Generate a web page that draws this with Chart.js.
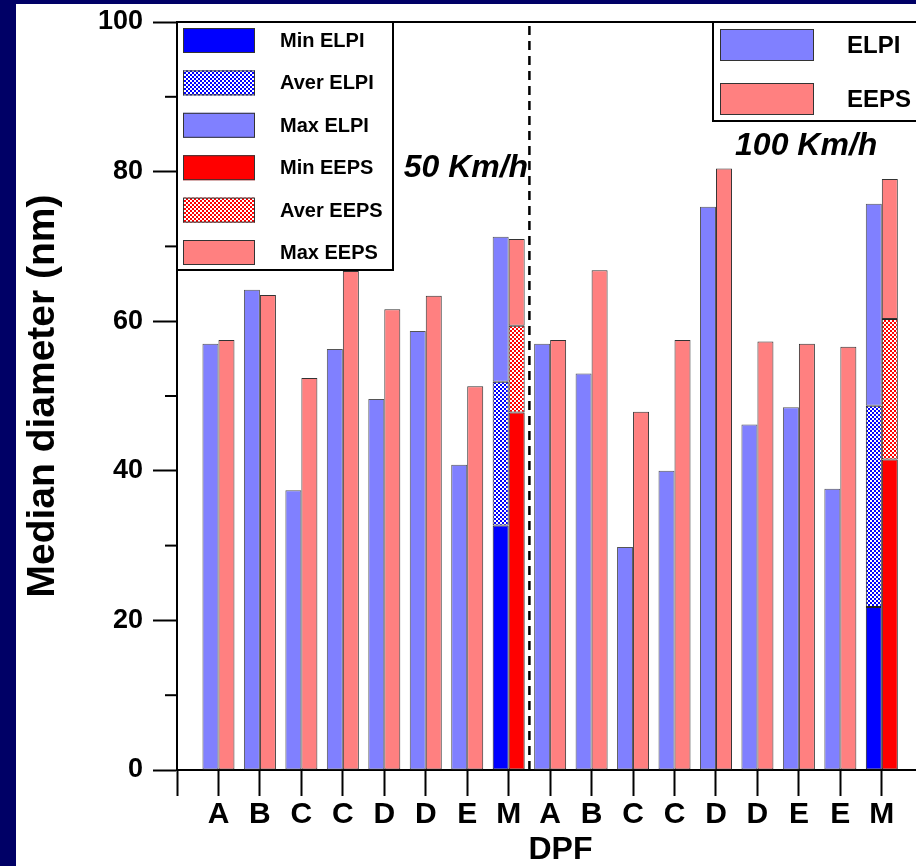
<!DOCTYPE html>
<html>
<head>
<meta charset="utf-8">
<title>Median diameter by DPF</title>
<script src="https://cdn.jsdelivr.net/npm/chart.js@4.4.1/dist/chart.umd.min.js"></script>
<style>
  html, body { margin: 0; padding: 0; background: #000066; overflow: hidden; width: 916px; height: 866px; }
  #frame { position: absolute; left: 16px; top: 4px; width: 928px; height: 862px; background: #fff; }
  canvas { display: block; }
</style>
</head>
<body>
<div id="frame"><canvas id="chart" width="928" height="862"></canvas></div>
<script>
// ---------- Data ----------
const categories = ["A", "B", "C", "C", "D", "D", "E", "M", "A", "B", "C", "C", "D", "D", "E", "E", "M"];
const elpiMax = [57.0, 64.2, 37.4, 56.3, 49.6, 58.7, 40.8, 71.3, 57.0, 53.0, 29.8, 40.0, 75.3, 46.2, 48.5, 37.6, 75.7];
const eepsMax = [57.5, 63.5, 52.4, 66.7, 61.6, 63.4, 51.3, 71.0, 57.5, 66.8, 47.9, 57.5, 80.4, 57.3, 57.0, 56.6, 79.0];
const elpiMin = [null, null, null, null, null, null, null, 32.7, null, null, null, null, null, null, null, null, 21.8];
const elpiAver = [null, null, null, null, null, null, null, 51.9, null, null, null, null, null, null, null, null, 48.7];
const eepsMin = [null, null, null, null, null, null, null, 47.8, null, null, null, null, null, null, null, null, 41.5];
const eepsAver = [null, null, null, null, null, null, null, 59.4, null, null, null, null, null, null, null, null, 60.3];
const minorTicks = [10, 30, 50, 70, 90];
const speedLabels = ["50 Km/h", "100 Km/h"];
const splitAt = 8.5;
const summaryLabels = ["ELPI", "EEPS"];

const FONT = "'Liberation Sans', Arial, Helvetica, sans-serif";

// ---------- Helpers ----------
function checker(color) {
  const c = document.createElement("canvas");
  c.width = 4;
  c.height = 4;
  const g = c.getContext("2d");
  g.fillStyle = "#fff";
  g.fillRect(0, 0, 4, 4);
  g.fillStyle = color;
  g.fillRect(0, 0, 2, 2);
  g.fillRect(2, 2, 2, 2);
  return g.createPattern(c, "repeat");
}

// stacked pieces: value minus what is under it
function piece(top, base) {
  return top.map((v, i) => ({
    x: i + 1,
    y: v === null ? null : v - (base ? base[i] || 0 : 0),
  }));
}

function bar(label, stack, data, color, edge) {
  return {
    type: "bar",
    label: label,
    stack: stack,
    data: data,
    backgroundColor: color,
    borderColor: edge,
    borderWidth: 1,
    borderSkipped: false,
    categoryPercentage: 0.772,
    barPercentage: 1,
  };
}

// ---------- Plugins ----------
const decorations = {
  id: "decorations",
  afterDatasetsDraw(chart) {
    const { ctx, chartArea, scales } = chart;
    ctx.save();
    ctx.strokeStyle = "#000";
    ctx.lineWidth = 2;
    // top and right frame
    ctx.beginPath();
    ctx.moveTo(chartArea.left, chartArea.top);
    ctx.lineTo(chartArea.right, chartArea.top);
    ctx.lineTo(chartArea.right, chartArea.bottom);
    ctx.stroke();
    // minor y ticks
    minorTicks.forEach((v) => {
      const y = scales.y.getPixelForValue(v);
      ctx.beginPath();
      ctx.moveTo(chartArea.left - 12, y);
      ctx.lineTo(chartArea.left, y);
      ctx.stroke();
    });
    // speed labels
    ctx.fillStyle = "#000";
    ctx.font = "italic bold 32px " + FONT;
    ctx.textBaseline = "alphabetic";
    ctx.textAlign = "right";
    ctx.fillText(speedLabels[0], scales.x.getPixelForValue(8.47), scales.y.getPixelForValue(79.3));
    ctx.textAlign = "left";
    ctx.fillText(speedLabels[1], scales.x.getPixelForValue(13.46), scales.y.getPixelForValue(82.2));
    ctx.restore();
  },
  afterDraw(chart) {
    const { ctx, chartArea } = chart;
    const bars = chart.data.datasets.filter((d) => d.type === "bar");
    const L = chartArea.left, T = chartArea.top;
    ctx.save();
    // legend 1
    ctx.fillStyle = "#fff";
    ctx.fillRect(L, T, 216, 248);
    ctx.strokeStyle = "#000";
    ctx.lineWidth = 2;
    ctx.strokeRect(L, T, 216, 248);
    ctx.font = "bold 20px " + FONT;
    ctx.textBaseline = "middle";
    ctx.textAlign = "left";
    bars.forEach((d, i) => {
      const cy = T + 18.5 + i * 42.4;
      ctx.fillStyle = d.backgroundColor;
      ctx.fillRect(L + 6, cy - 12.5, 72, 25);
      ctx.strokeStyle = "#333";
      ctx.lineWidth = 1;
      ctx.strokeRect(L + 6.5, cy - 12, 71, 24);
      ctx.fillStyle = "#000";
      ctx.fillText(d.label, L + 103, cy + 1);
    });
    // legend 2
    const X2 = L + 536;
    ctx.fillStyle = "#fff";
    ctx.fillRect(X2, T, 400, 99);
    ctx.strokeStyle = "#000";
    ctx.lineWidth = 2;
    ctx.strokeRect(X2, T, 400, 99);
    ctx.font = "bold 24px " + FONT;
    [bars[2], bars[5]].forEach((d, i) => {
      const top = T + 7 + i * 54;
      ctx.fillStyle = d.backgroundColor;
      ctx.fillRect(X2 + 7, top, 94, 32);
      ctx.strokeStyle = "#333";
      ctx.lineWidth = 1;
      ctx.strokeRect(X2 + 7.5, top + 0.5, 93, 31);
      ctx.fillStyle = "#000";
      ctx.fillText(summaryLabels[i], X2 + 134, top + 17);
    });
    ctx.restore();
  },
};

// ---------- Chart ----------
const blueHatch = checker("#0000ff");
const redHatch = checker("#ff0000");

new Chart(document.getElementById("chart"), {
  data: {
    datasets: [
      bar("Min ELPI", "elpi", piece(elpiMin), "#0000ff", "#222"),
      bar("Aver ELPI", "elpi", piece(elpiAver, elpiMin), blueHatch, "#222"),
      bar("Max ELPI", "elpi", piece(elpiMax, elpiAver), "#8080ff", "#555"),
      bar("Min EEPS", "eeps", piece(eepsMin), "#ff0000", "#222"),
      bar("Aver EEPS", "eeps", piece(eepsAver, eepsMin), redHatch, "#222"),
      bar("Max EEPS", "eeps", piece(eepsMax, eepsAver), "#ff8080", "#333"),
      {
        type: "line",
        label: "split",
        data: [{ x: splitAt, y: 0 }, { x: splitAt, y: 100 }],
        borderColor: "#000",
        borderWidth: 2.5,
        borderDash: [9, 6],
        pointRadius: 0,
      },
    ],
  },
  options: {
    responsive: false,
    animation: false,
    layout: { padding: { top: 18, left: 0, right: 0, bottom: 0 } },
    plugins: { legend: { display: false }, tooltip: { enabled: false } },
    scales: {
      x: {
        type: "linear",
        min: 0,
        max: 18.5,
        offset: false,
        afterFit: (s) => {
          s.height = 96;
          s.paddingLeft = 0;
          s.paddingRight = 0;
        },
        grid: { drawOnChartArea: false, offset: false, tickLength: 26, tickWidth: 2, tickColor: "#000" },
        border: { color: "#000", width: 2 },
        ticks: {
          stepSize: 1,
          includeBounds: false,
          autoSkip: false,
          maxRotation: 0,
          padding: 1,
          color: "#000",
          font: { family: FONT, size: 30, weight: "bold" },
          callback: (v) => categories[v - 1] || "",
        },
        title: {
          display: true,
          text: "DPF",
          color: "#000",
          font: { family: FONT, size: 32, weight: "bold", lineHeight: 1 },
          padding: 0,
        },
      },
      y: {
        min: 0,
        max: 100,
        stacked: true,
        afterFit: (s) => {
          s.width = 161;
          s.paddingTop = 0;
          s.paddingBottom = 0;
        },
        grid: { drawOnChartArea: false, tickLength: 24, tickWidth: 2, tickColor: "#000" },
        border: { color: "#000", width: 2 },
        ticks: {
          stepSize: 20,
          padding: 10,
          color: "#000",
          font: { family: FONT, size: 27, weight: "bold" },
        },
        title: {
          display: true,
          text: "Median diameter (nm)",
          color: "#000",
          font: { family: FONT, size: 39, weight: "bold", lineHeight: 1 },
          padding: { top: 8, bottom: 0 },
        },
      },
    },
  },
  plugins: [decorations],
});
</script>
</body>
</html>
